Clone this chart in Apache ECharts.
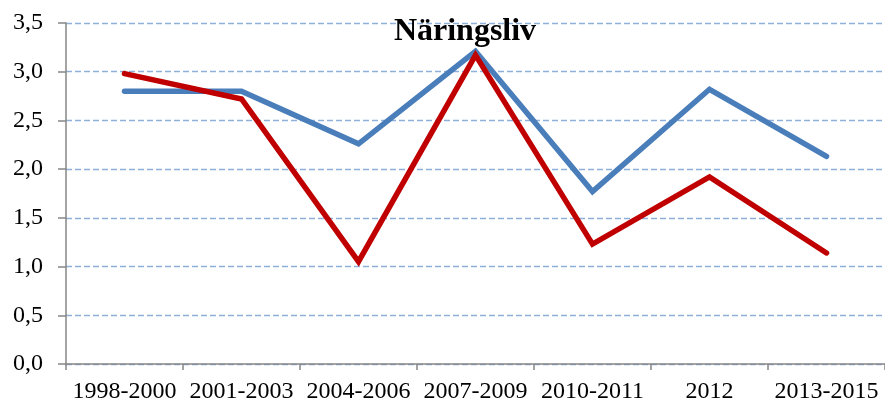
<!DOCTYPE html>
<html><head><meta charset="utf-8">
<script src="https://cdn.jsdelivr.net/npm/echarts@6/dist/echarts.min.js"></script>
<style>html,body{margin:0;padding:0;background:#fff}#c{width:885px;height:404px}</style>
</head><body><div id="c"></div>
<script>
const categories = ['1998-2000','2001-2003','2004-2006','2007-2009','2010-2011','2012','2013-2015'];
const blueSeries = [2.80, 2.80, 2.26, 3.21, 1.77, 2.82, 2.13];
const redSeries = [2.98, 2.72, 1.05, 3.17, 1.23, 1.92, 1.14];
const yTicks = [0, 0.5, 1, 1.5, 2, 2.5, 3, 3.5];
const titleText = 'Näringsliv';

const chart = echarts.init(document.getElementById('c'), null, {renderer:'canvas'});
const font = '"Liberation Serif", "Times New Roman", serif';
chart.setOption({
  animation:false,
  title:{text:titleText,left:460,top:11,textAlign:'center',
    textStyle:{fontFamily:font,fontSize:32,fontWeight:'bold',color:'#000'}},
  grid:{left:66,right:-1,top:23,bottom:38},
  xAxis:{type:'category',data:categories,boundaryGap:true,
    axisLine:{lineStyle:{color:'#868686',width:1.5}},
    axisTick:{show:true,length:6,lineStyle:{color:'#868686',width:1.5}},
    axisLabel:{fontFamily:font,fontSize:24,color:'#000',margin:16,interval:0}},
  yAxis:{type:'value',min:0,max:3.5,interval:0.5,
    axisLine:{show:true,lineStyle:{color:'#868686',width:1.5}},
    axisTick:{show:true,length:8,lineStyle:{color:'#868686',width:1.5}},
    axisLabel:{fontFamily:font,fontSize:24,color:'#000',margin:23,
      formatter:v=>{const t=yTicks.find(x=>Math.abs(x-v)<1e-9);return (t!==undefined?t:v).toFixed(1).replace('.',',');}},
    splitLine:{show:true,lineStyle:{color:'#8eb0d9',width:1.3,type:[6,3]}}},
  series:[
    {type:'line',data:blueSeries,symbol:'none',lineStyle:{color:'#4a7ebb',width:5.5,cap:'round',join:'miter'},itemStyle:{color:'#4a7ebb'}},
    {type:'line',data:redSeries,symbol:'none',lineStyle:{color:'#c00000',width:5.5,cap:'round',join:'miter'},itemStyle:{color:'#c00000'}}
  ]
});
</script></body></html>
